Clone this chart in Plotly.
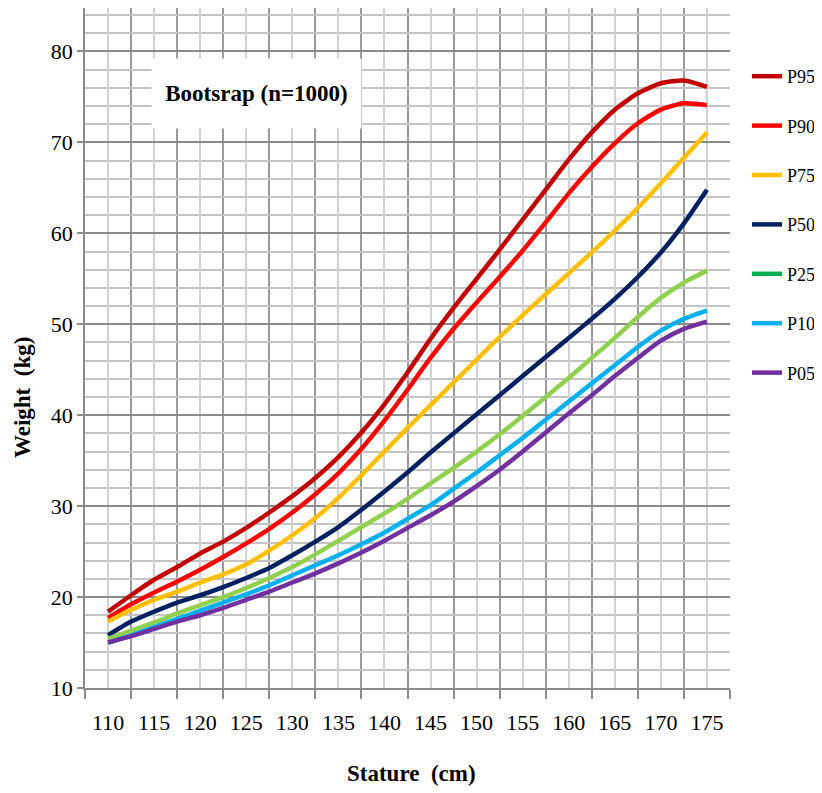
import plotly.graph_objects as go

stature = [110, 112.5, 115, 117.5, 120, 122.5, 125, 127.5, 130, 132.5, 135, 137.5, 140,
           142.5, 145, 147.5, 150, 152.5, 155, 157.5, 160, 162.5, 165, 167.5, 170, 172.5, 175]

p95 = [18.4, 20.2, 21.9, 23.3, 24.8, 26.1, 27.6, 29.3, 31.1, 33.1, 35.4, 38.1, 41.2,
       44.7, 48.4, 51.8, 55.0, 58.2, 61.5, 64.8, 68.1, 71.1, 73.6, 75.4, 76.5, 76.8, 76.1]
p90 = [17.7, 19.2, 20.5, 21.7, 23.0, 24.4, 25.9, 27.5, 29.3, 31.3, 33.6, 36.3, 39.4,
       42.8, 46.3, 49.5, 52.4, 55.2, 58.1, 61.2, 64.4, 67.3, 69.9, 72.1, 73.6, 74.3, 74.1]
p75 = [17.3, 18.6, 19.7, 20.6, 21.6, 22.5, 23.6, 25.1, 26.8, 28.7, 30.9, 33.4, 36.0,
       38.6, 41.1, 43.6, 46.1, 48.6, 51.0, 53.3, 55.6, 57.9, 60.3, 62.8, 65.5, 68.3, 71.1]
p50 = [15.8, 17.3, 18.4, 19.4, 20.2, 21.1, 22.1, 23.2, 24.6, 26.1, 27.7, 29.6, 31.6,
       33.7, 35.9, 38.0, 40.1, 42.2, 44.3, 46.4, 48.5, 50.6, 52.8, 55.2, 57.9, 61.1, 64.8]
p25 = [15.4, 16.3, 17.2, 18.2, 19.1, 20.0, 21.0, 22.1, 23.3, 24.7, 26.2, 27.7, 29.2,
       30.8, 32.5, 34.2, 36.0, 37.9, 39.9, 42.0, 44.1, 46.3, 48.5, 50.8, 52.9, 54.6, 55.9]
p10 = [15.0, 15.8, 16.7, 17.6, 18.5, 19.4, 20.3, 21.3, 22.4, 23.5, 24.6, 25.8, 27.1,
       28.6, 30.1, 31.9, 33.7, 35.6, 37.5, 39.5, 41.5, 43.5, 45.5, 47.5, 49.3, 50.6, 51.5]
p05 = [15.0, 15.7, 16.5, 17.3, 18.0, 18.8, 19.7, 20.6, 21.6, 22.6, 23.7, 24.9, 26.2,
       27.6, 29.0, 30.5, 32.2, 34.0, 36.0, 38.1, 40.2, 42.2, 44.3, 46.3, 48.2, 49.5, 50.3]

series_names = ["P95", "P90", "P75", "P50", "P25", "P10", "P05"]
series_values = [p95, p90, p75, p50, p25, p10, p05]
line_colors = ["#C00000", "#FF0000", "#FFC000", "#002060", "#92D050", "#00B0F0", "#7030A0"]
legend_colors = ["#C00000", "#FF0000", "#FFC000", "#002060", "#00B050", "#00B0F0", "#7030A0"]

x_ticks = [110, 115, 120, 125, 130, 135, 140, 145, 150, 155, 160, 165, 170, 175]
y_ticks = [10, 20, 30, 40, 50, 60, 70, 80]

FONT = "Liberation Serif, Times New Roman, serif"

# the page body adds an 8px offset; figure sized to fit the window
W, H = 814, 785
ML, MR, MT, MB = 77, 92, 0, 105
PH = H - MT - MB  # plot height in px


def py(win_y):
    """paper y for a window pixel row"""
    return (H - MB - (win_y - 8)) / PH


def px(win_x):
    return (win_x - 8 - ML) / (W - ML - MR)


fig = go.Figure()
for name, vals, lc, gc in zip(series_names, series_values, line_colors, legend_colors):
    same = lc == gc
    fig.add_trace(go.Scatter(
        x=stature, y=vals, mode="lines", name=name, legendgroup=name,
        showlegend=same,
        line=dict(color=lc, width=4.5, shape="spline", smoothing=0.6),
    ))
    if not same:
        fig.add_trace(go.Scatter(
            x=[None], y=[None], mode="lines", name=name, legendgroup=name,
            line=dict(color=gc, width=4.5),
        ))

fig.update_layout(
    width=W, height=H,
    margin=dict(l=ML, r=MR, t=MT, b=MB),
    paper_bgcolor="white", plot_bgcolor="white",
    font=dict(family=FONT, color="black"),
    showlegend=True,
    legend=dict(
        x=px(747), xanchor="left", y=py(58), yanchor="top",
        font=dict(family=FONT, size=18, color="black"),
        traceorder="grouped", tracegroupgap=23,
        bgcolor="rgba(0,0,0,0)", itemwidth=30, borderwidth=0,
    ),
    xaxis=dict(
        range=[107.5, 177.5], tickvals=x_ticks, ticktext=[str(v) for v in x_ticks],
        showgrid=True, gridcolor="#d2d2d2", gridwidth=1.5,
        ticks="", ticklabelstandoff=14, automargin=False,
        tickfont=dict(family=FONT, size=22, color="black"),
        showline=True, linecolor="#8c8c8c", linewidth=1.5,
        zeroline=False,
        minor=dict(tickvals=[107.5 + 5 * i for i in range(15)], showgrid=True,
                   gridcolor="#9a9a9a", gridwidth=1.5, ticks="outside", ticklen=9,
                   tickcolor="#8c8c8c", tickwidth=1.5),
    ),
    yaxis=dict(
        range=[10, 84.78], tickvals=y_ticks, automargin=False,
        showgrid=True, gridcolor="#8c8c8c", gridwidth=1.5,
        ticks="outside", ticklen=6, tickcolor="#8c8c8c", tickwidth=1.5,
        tickfont=dict(family=FONT, size=22, color="black"),
        showline=True, linecolor="#8c8c8c", linewidth=1.5,
        zeroline=False,
        minor=dict(dtick=2, showgrid=True, gridcolor="#c4c4c4", gridwidth=1.5),
    ),
    annotations=[
        dict(text="<b>Bootsrap (n=1000)</b>", xref="paper", yref="paper",
             x=px(256), y=py(93), showarrow=False,
             font=dict(family=FONT, size=23, color="black"),
             bgcolor="white", width=207, height=67, xanchor="center", yanchor="middle"),
        dict(text="<b>Weight  (kg)</b>", xref="paper", yref="paper",
             x=px(22), y=py(398), showarrow=False, textangle=-90,
             font=dict(family=FONT, size=23, color="black"),
             xanchor="center", yanchor="middle"),
        dict(text="<b>Stature  (cm)</b>", xref="paper", yref="paper",
             x=px(411), y=py(773), showarrow=False,
             font=dict(family=FONT, size=23, color="black"),
             xanchor="center", yanchor="middle"),
    ],
)

fig.write_html("out.html")
